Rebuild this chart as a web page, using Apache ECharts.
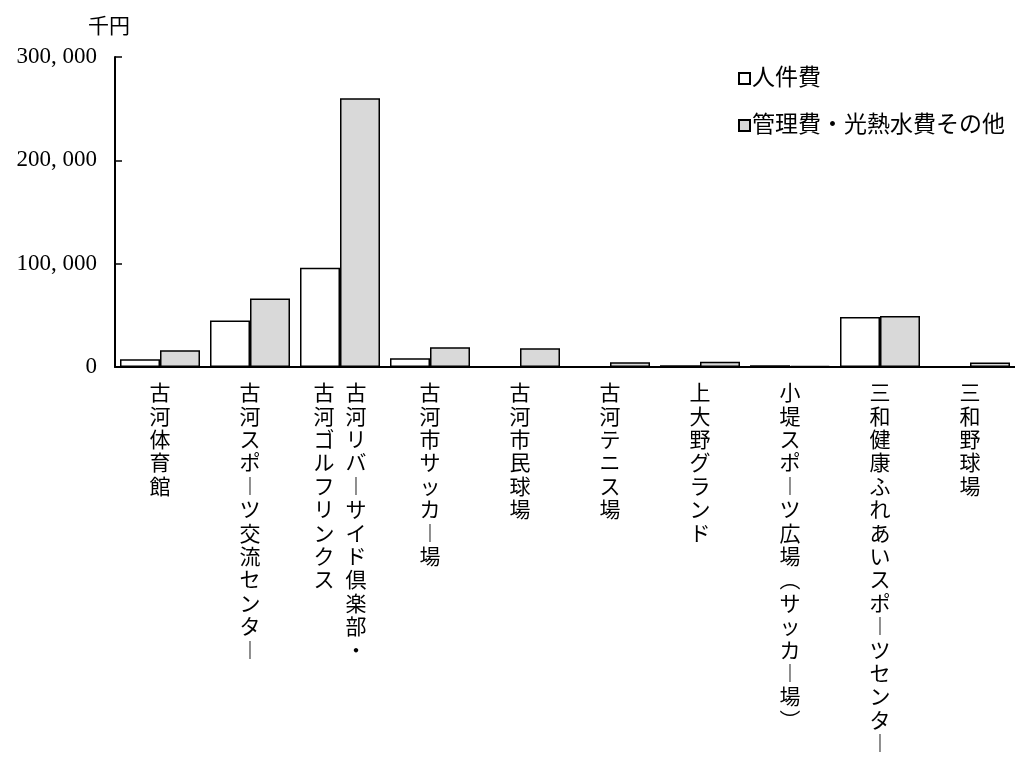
<!DOCTYPE html>
<html>
<head>
<meta charset="UTF-8">
<title>施設別 費用</title>
<script src="https://cdn.jsdelivr.net/npm/echarts@6/dist/echarts.min.js"></script>
<style>
  html, body { margin: 0; padding: 0; background: #fff; }
  #main { width: 1015px; height: 760px; }
</style>
</head>
<body>
<div id="main"></div>
<script>
// 施設名（縦書き表示、2列になるものは配列で）
var categories = [
  '古河体育館',
  '古河スポーツ交流センター',
  ['古河リバーサイド倶楽部・', '古河ゴルフリンクス'],
  '古河市サッカー場',
  '古河市民球場',
  '古河テニス場',
  '上大野グランド',
  '小堤スポーツ広場(サッカー場)',
  '三和健康ふれあいスポーツセンター',
  '三和野球場'
];
// 単位：千円
var jinkenhi = [7500, 45000, 96000, 8500, 0, 0, 1800, 1600, 48500, 600];
var kanrihi = [16300, 66300, 260000, 19100, 18200, 4600, 5200, 1200, 49400, 4300];
var seriesNames = ['人件費', '管理費・光熱水費その他'];
var yTicks = [0, 100000, 200000, 300000];

var FONT = "'Liberation Serif', 'Noto Sans CJK JP', serif";

// 縦書き用の文字置換
function tate(ch) {
  if (ch === 'ー') return '︱';
  if (ch === '(' || ch === '（') return '︵';
  if (ch === ')' || ch === '）') return '︶';
  return ch;
}

// 1列 or 2列（右から左）の縦書きラベルを rich テキストで組み立てる
function verticalLabel(idx) {
  var c = categories[idx];
  var cols = (typeof c === 'string') ? [c] : c;
  var n = 0;
  cols.forEach(function (s) { n = Math.max(n, s.length); });
  var lines = [];
  for (var i = 0; i < n; i++) {
    var line = '';
    for (var k = cols.length - 1; k >= 0; k--) {
      var ch = cols[k].charAt(i);
      line += '{c|' + (ch ? tate(ch) : '\u3000') + '}';
    }
    lines.push(line);
  }
  return lines.join('\n');
}

function fmt(v) {
  return String(v).replace(/\B(?=(\d{3})+(?!\d))/g, ', ');
}

var chart = echarts.init(document.getElementById('main'), null, { renderer: 'canvas' });

var option = {
  backgroundColor: '#fff',
  animation: false,
  textStyle: { fontFamily: FONT, color: '#000' },
  grid: { left: 115, right: 0, top: 57, bottom: 393 },
  legend: {
    orient: 'vertical',
    left: 733,
    top: 62,
    itemWidth: 11,
    itemHeight: 11,
    itemGap: 24,
    icon: 'rect',
    textStyle: { fontFamily: FONT, fontSize: 23, color: '#000', padding: [0, 0, 0, -3] },
    data: seriesNames
  },
  xAxis: {
    type: 'category',
    data: categories.map(function (c, i) { return i; }),
    axisLine: { lineStyle: { color: '#000', width: 2 } },
    axisTick: { show: false },
    axisLabel: {
      interval: 0,
      margin: 16,
      formatter: function (v, i) { return verticalLabel(i); },
      rich: {
        c: { fontFamily: FONT, fontSize: 21, lineHeight: 23.4, width: 32, align: 'center', color: '#000' }
      }
    }
  },
  yAxis: {
    type: 'value',
    min: yTicks[0],
    max: yTicks[yTicks.length - 1],
    interval: yTicks[1] - yTicks[0],
    name: '千円',
    nameLocation: 'end',
    nameGap: 19,
    nameTextStyle: { fontFamily: FONT, fontSize: 21, color: '#000', padding: [0, 12, 0, 0] },
    axisLine: { show: true, lineStyle: { color: '#000', width: 2 } },
    axisTick: { show: true, inside: true, length: 7, lineStyle: { color: '#000', width: 1.5 } },
    splitLine: { show: false },
    axisLabel: {
      margin: 18,
      fontFamily: FONT,
      fontSize: 23,
      color: '#000',
      formatter: fmt
    }
  },
  series: [
    {
      name: seriesNames[0],
      type: 'bar',
      barWidth: 40,
      barGap: '0%',
      itemStyle: { color: '#ffffff', borderColor: '#000', borderWidth: 1.5 },
      data: jinkenhi
    },
    {
      name: seriesNames[1],
      type: 'bar',
      barWidth: 40,
      barGap: '0%',
      itemStyle: { color: '#d9d9d9', borderColor: '#000', borderWidth: 1.5 },
      data: kanrihi
    }
  ]
};

chart.setOption(option);
</script>
</body>
</html>
